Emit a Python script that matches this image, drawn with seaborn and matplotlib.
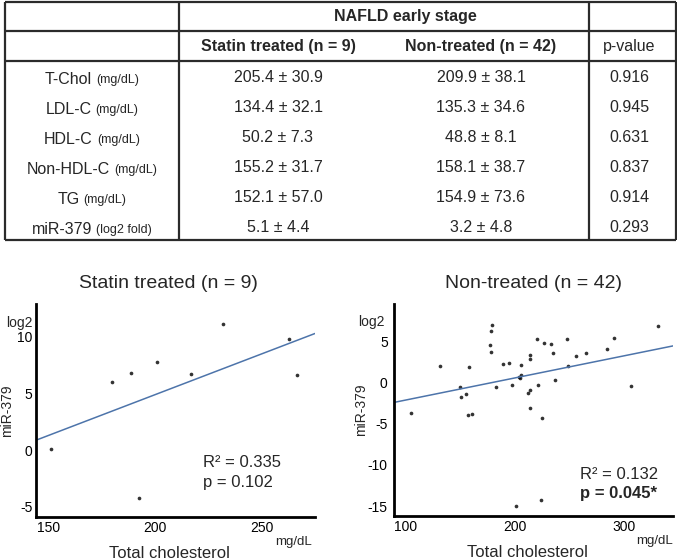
import matplotlib
matplotlib.use("Agg")
import matplotlib.pyplot as plt
import seaborn as sns
import pandas as pd

# ---- table contents ----
row_names = ['T-Chol', 'LDL-C', 'HDL-C', 'Non-HDL-C', 'TG', 'miR-379']
row_units = ['(mg/dL)', '(mg/dL)', '(mg/dL)', '(mg/dL)', '(mg/dL)', '(log2 fold)']
statin_vals = ['205.4 ± 30.9', '134.4 ± 32.1', '50.2 ± 7.3', '155.2 ± 31.7', '152.1 ± 57.0', '5.1 ± 4.4']
nontreated_vals = ['209.9 ± 38.1', '135.3 ± 34.6', '48.8 ± 8.1', '158.1 ± 38.7', '154.9 ± 73.6', '3.2 ± 4.8']
p_vals = ['0.916', '0.945', '0.631', '0.837', '0.914', '0.293']

# ---- scatter data (total cholesterol vs miR-379, log2) ----
statin_chol = [151.3, 180.0, 188.8, 192.4, 200.9, 217.0, 232.0, 263.0, 266.7]
statin_mir = [0.1, 6.0, 6.8, -4.2, 7.8, 6.7, 11.1, 9.8, 6.6]

nontreated_chol = [105.0, 131.3, 149.4, 150.5, 155.4, 156.7, 157.6, 160.9, 176.8, 178.0,
                   178.0, 179.2, 182.6, 189.0, 194.5, 197.0, 200.6, 203.7, 205.0, 205.5,
                   205.5, 211.6, 214.0, 214.0, 214.0, 214.0, 219.9, 221.3, 223.5, 224.7,
                   226.8, 233.2, 234.5, 236.6, 247.6, 248.8, 255.9, 265.3, 284.5, 290.7,
                   306.2, 331.2]
nontreated_mir = [-3.70, 1.96, -0.55, -1.76, -1.40, -3.90, 1.84, -3.82, 4.59, 6.17,
                  3.70, 6.97, -0.62, 2.17, 2.33, -0.26, -15.02, 0.71, 0.51, 2.05,
                  0.87, -1.23, -0.98, -3.10, 3.30, 2.78, 5.27, -0.26, -14.29, -4.26,
                  4.72, 4.67, 3.62, 0.23, 5.20, 1.93, 3.14, 3.58, 3.99, 5.36,
                  -0.43, 6.81]

stats_statin = ['R² = 0.335', 'p = 0.102']
stats_nontreated = ['R² = 0.132', 'p = 0.045*']

sns.set_style('white')
plt.rcParams['font.family'] = ['Liberation Sans', 'DejaVu Sans']
plt.rcParams['axes.unicode_minus'] = False

W, H = 677, 560
fig = plt.figure(figsize=(W / 100, H / 100), dpi=100)

# ---- table (pixel coordinates) ----
tab = fig.add_axes([0, 0, 1, 1])
tab.set_xlim(0, W)
tab.set_ylim(H, 0)
tab.axis('off')

line_kw = dict(color='#2b2b2b', lw=1.6)
tab.hlines([2, 31, 61, 240], 5, 676, **line_kw)
tab.vlines([5, 179, 589, 676], 2, 240, **line_kw)

fs = 11.5
tab.text(405, 16.5, 'NAFLD early stage', fontsize=fs, weight='bold', ha='center', va='center')
tab.text(278, 47, 'Statin treated (n = 9)', fontsize=fs, weight='bold', ha='center', va='center')
tab.text(481, 47, 'Non-treated (n = 42)', fontsize=fs, weight='bold', ha='center', va='center')
tab.text(629, 47, 'p-value', fontsize=fs, ha='center', va='center')

fig.canvas.draw()
renderer = fig.canvas.get_renderer()

for i, name in enumerate(row_names):
    yc = 78 + i * 30
    t1 = tab.text(0, yc + 5.5, name, fontsize=fs, ha='left', va='baseline')
    t2 = tab.text(0, yc + 5.5, row_units[i], fontsize=9, ha='left', va='baseline')
    w1 = t1.get_window_extent(renderer).width
    w2 = t2.get_window_extent(renderer).width
    x0 = 92 - (w1 + 4 + w2) / 2
    t1.set_x(x0)
    t2.set_x(x0 + w1 + 4)
    tab.text(278, yc, statin_vals[i], fontsize=fs, ha='center', va='center')
    tab.text(481, yc, nontreated_vals[i], fontsize=fs, ha='center', va='center')
    tab.text(629, yc, p_vals[i], fontsize=fs, ha='center', va='center')

# ---- scatter panels ----
df_s = pd.DataFrame({'chol': statin_chol, 'mir': statin_mir})
df_n = pd.DataFrame({'chol': nontreated_chol, 'mir': nontreated_mir})

axL = fig.add_axes([36 / W, (H - 517) / H, (315 - 36) / W, (517 - 304) / H])
axR = fig.add_axes([394 / W, (H - 516) / H, (673 - 394) / W, (516 - 304) / H])

panels = [
    (axL, df_s, (144.2, 275.0), (-5.9, 12.9), [150, 200, 250], [-5, 0, 5, 10],
     'Statin treated (n = 9)', 0.475, stats_statin, (0.599, 0.254, 0.16), False,
     -0.011, 0.911, -0.078, 0.99, 2.5),
    (axR, df_n, (89.2, 344.7), (-16.2, 9.5), [100, 200, 300], [-15, -10, -5, 0, 5],
     'Non-treated (n = 42)', 0.5, stats_nontreated, (0.667, 0.198, 0.104), True,
     -0.032, 0.915, -0.093, 1.0, 4.5),
]

for (ax, d, xl, yl, xt, yt, title, tx, st, spos, bold_p,
     logx, logy, ylx, mgx, ypad) in panels:
    ax.set_xlim(*xl)
    ax.set_ylim(*yl)
    sns.regplot(data=d, x='chol', y='mir', ax=ax, ci=None, truncate=False,
                scatter_kws=dict(s=7, color='black', linewidths=0),
                line_kws=dict(color='#4d74aa', lw=1.1))
    ax.set_xlim(*xl)
    ax.set_ylim(*yl)
    ax.set_xticks(xt)
    ax.set_yticks(yt)
    sns.despine(ax=ax)
    for s in ['left', 'bottom']:
        ax.spines[s].set_linewidth(2)
        ax.spines[s].set_color('black')
    ax.tick_params(axis='both', length=0, labelsize=10, colors='black')
    ax.tick_params(axis='x', pad=3)
    ax.tick_params(axis='y', pad=ypad)
    ax.set_title(title, fontsize=14, pad=11.5, x=tx)
    ax.set_xlabel('Total cholesterol', fontsize=12)
    ax.xaxis.set_label_coords(0.48, -0.138)
    ax.set_ylabel('miR-379', fontsize=10)
    ax.yaxis.set_label_coords(ylx, 0.5)
    ax.text(logx, logy, 'log2', transform=ax.transAxes, ha='right', va='center', fontsize=10)
    ax.text(mgx, -(542 - 517) / 213, 'mg/dL', transform=ax.transAxes,
            ha='right', va='center', fontsize=9.5)
    ax.text(spos[0], spos[1], st[0], transform=ax.transAxes, ha='left', va='center', fontsize=12)
    ax.text(spos[0], spos[2], st[1], transform=ax.transAxes, ha='left', va='center',
            fontsize=12, weight='bold' if bold_p else 'normal')

fig.savefig('out.png', dpi=100)
